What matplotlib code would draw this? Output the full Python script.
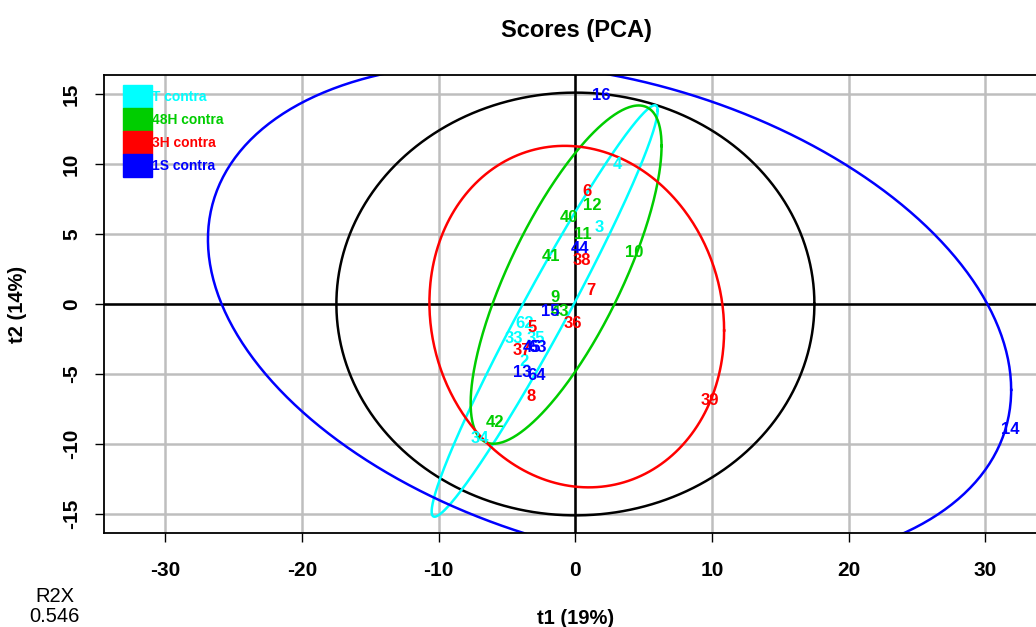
import numpy as np
import matplotlib.pyplot as plt
from matplotlib.patches import Rectangle

plt.rcParams['font.family'] = ['Liberation Sans', 'DejaVu Sans']
plt.rcParams['axes.unicode_minus'] = False

groups = ['T contra', '48H contra', '3H contra', '1S contra']
colors = ['#00FFFF', '#00CD00', '#FF0000', '#0000FF']

# score labels per group (sample id, t1, t2)
t_ids = ['4', '3', '62', '33', '35', '2', '34']
t_t1 = [3.07, 1.76, -3.73, -4.47, -2.86, -3.73, -7.0]
t_t2 = [9.93, 5.5, -1.36, -2.43, -2.43, -4.14, -9.64]

h48_ids = ['12', '40', '11', '41', '10', '9', '43', '42']
h48_t1 = [1.24, -0.44, 0.51, -1.76, 4.32, -1.46, -1.1, -5.86]
h48_t2 = [7.07, 6.21, 4.93, 3.36, 3.71, 0.5, -0.5, -8.43]

h3_ids = ['6', '38', '7', '36', '5', '37', '8', '39']
h3_t1 = [0.88, 0.44, 1.1, -0.15, -3.15, -3.95, -3.22, 9.81]
h3_t2 = [8.07, 3.14, 1.0, -1.36, -1.7, -3.29, -6.64, -6.86]

s1_ids = ['16', '44', '15', '45', '63', '13', '64', '14']
s1_t1 = [1.9, 0.37, -1.83, -3.2, -2.8, -3.88, -2.86, 31.85]
s1_t2 = [14.93, 3.93, -0.5, -3.14, -3.14, -4.86, -5.14, -8.93]

# confidence ellipses: centre and covariance (t1, t2)
ell_centers = [(0.0, 0.0), (-2.25, -0.5), (-0.68, 2.1), (0.1, -0.9), (2.5, -0.76)]
ell_covs = [
    [[306.0, 0.0], [0.0, 228.0]],
    [[68.4, 118.4], [118.4, 216.0]],
    [[48.8, 64.2], [64.2, 146.0]],
    [[116.3, -10.7], [-10.7, 148.8]],
    [[864.0, -158.0], [-158.0, 323.0]],
]
ell_colors = ['black'] + colors

fig = plt.figure(figsize=(10.36, 6.27), dpi=100)
ax = fig.add_axes([0.1004, 0.1499, 0.910, 0.7305])
ax.set_xlim(-34.5, 34.5)
ax.set_ylim(-16.36, 16.36)

ax.set_xticks(range(-30, 31, 10))
ax.set_yticks(range(-15, 16, 5))
ax.grid(True, color='#BEBEBE', lw=1.8)
ax.set_axisbelow(True)
ax.tick_params(direction='out', length=6.5, width=1, labelsize=15, pad=14)
ax.tick_params(axis='y', labelrotation=90, pad=10)
for lab in ax.get_xticklabels() + ax.get_yticklabels():
    lab.set_fontweight('bold')
for lab in ax.get_yticklabels():
    lab.set_va('center')
for s in ax.spines.values():
    s.set_linewidth(1.3)

ax.axhline(0, color='black', lw=1.8)
ax.axvline(0, color='black', lw=1.8)

t = np.linspace(0, 2 * np.pi, 400)
for c, cov, col in zip(ell_centers, ell_covs, ell_colors):
    L = np.linalg.cholesky(np.array(cov))
    pts = L @ np.vstack([np.cos(t), np.sin(t)])
    ax.plot(c[0] + pts[0], c[1] + pts[1], color=col, lw=1.8)

for ids, xs, ys, col in [(t_ids, t_t1, t_t2, colors[0]),
                         (h48_ids, h48_t1, h48_t2, colors[1]),
                         (h3_ids, h3_t1, h3_t2, colors[2]),
                         (s1_ids, s1_t1, s1_t2, colors[3])]:
    for lab, x, y in zip(ids, xs, ys):
        ax.text(x, y, lab, color=col, fontsize=12, fontweight='bold',
                ha='center', va='center')

# legend boxes
row_h = 0.0502
for i, (g, col) in enumerate(zip(groups, colors)):
    top = 0.978 - i * row_h
    ax.add_patch(Rectangle((0.0201, top - row_h), 0.0308, row_h, color=col,
                           transform=ax.transAxes, zorder=5))
    ax.text(0.0509, top - row_h / 2, g, color=col, fontsize=10,
            fontweight='bold', ha='left', va='center', transform=ax.transAxes,
            zorder=6)

fig.text(0.556, 0.952, 'Scores (PCA)', fontsize=17, fontweight='bold',
         ha='center', va='center')
fig.text(0.556, 0.014, 't1 (19%)', fontsize=14.5, fontweight='bold',
         ha='center', va='center')
fig.text(0.017, 0.515, 't2 (14%)', fontsize=14.5, fontweight='bold',
         ha='center', va='center', rotation=90)
fig.text(0.053, 0.048, 'R2X', fontsize=14.5, ha='center', va='center')
fig.text(0.053, 0.016, '0.546', fontsize=14.5, ha='center', va='center')

fig.savefig('out.png', dpi=100)
